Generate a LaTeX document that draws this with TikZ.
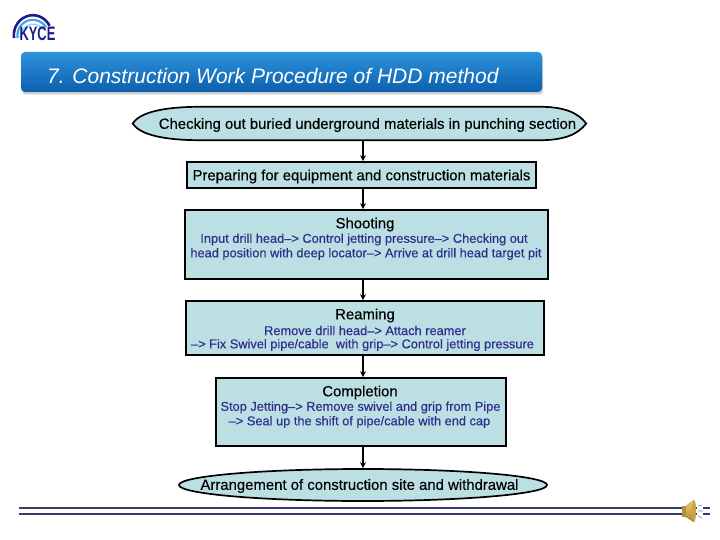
\documentclass[tikz,border=0pt]{standalone}
\usepackage{fontspec}
\setmainfont{Liberation Sans}
\newfontfamily\boxface[FakeBold=0.3, Ligatures=TeX]{Liberation Sans}
\usetikzlibrary{arrows.meta, shapes.geometric, shadows, positioning}
\definecolor{boxfill}{HTML}{BCDFE3}
\definecolor{subtext}{HTML}{2E2E8C}
\definecolor{rulenavy}{HTML}{3A3A70}
\definecolor{titletop}{HTML}{2C93DC}
\definecolor{titlebot}{HTML}{0D5FAE}
\definecolor{logoblue}{HTML}{1C1C8C}
\definecolor{logosky}{HTML}{3FA9E0}
\definecolor{speakergold}{HTML}{F0C050}
\tikzset{
  stepbox/.style={draw=black, line width=1.7pt, fill=boxfill, inner sep=0pt},
  endcap/.style={stepbox, ellipse},
  headtext/.style={font=\boxface\fontsize{14.9}{16}\selectfont, black, inner sep=0pt},
  subline/.style={font=\boxface\fontsize{12.8}{14}\selectfont, subtext, inner sep=0pt},
  flow/.style={line width=1.5pt, -{Stealth[length=6pt, width=6pt]}},
  bottomrule/.style={line width=2.4pt, rulenavy}
}
\begin{document}
\begin{tikzpicture}[x=1pt, y=-1pt]
  \useasboundingbox (0,0) rectangle (720,540);

  % logo
  \draw[line width=2.6pt, logoblue] (14,38) arc[start angle=172, end angle=332, x radius=19, y radius=20];
  \draw[line width=2.2pt, logosky] (17.5,38) arc[start angle=172, end angle=328, x radius=15.5, y radius=16];
  \draw[line width=1.4pt, logosky!55] (20.5,38) arc[start angle=174, end angle=324, x radius=12.5, y radius=12.5];
  \node[font=\bfseries\fontsize{19.5}{20}\selectfont, logoblue, inner sep=0pt, xscale=0.66] (logo) at (37.5,34) {KYCE};

  % title bar
  \node[draw=none, rounded corners=4pt, top color=titletop, bottom color=titlebot,
    minimum width=521pt, minimum height=40pt, inner sep=0pt,
    drop shadow={shadow xshift=1pt, shadow yshift=-2.5pt, opacity=0.4}] (titlebar) at (281.5,72) {};
  \node[font=\itshape\fontsize{21}{22}\selectfont, white, inner sep=0pt, anchor=west] (titletext) at (47,76.5)
    {7. Construction Work Procedure of HDD method};

  % steps
  \node[inner sep=0pt, minimum width=453pt, minimum height=33pt] (check) at (359.5,123.5) {};
  \draw[stepbox] (check.west) .. controls +(7,-11.5) and +(-35,0) .. ([xshift=-159.5pt]check.north)
    -- ([xshift=180.5pt]check.north) .. controls +(25,0) and +(-8,-10.5) .. (check.east)
    .. controls +(-8,10.5) and +(25,0) .. ([xshift=180.5pt]check.south)
    -- ([xshift=-159.5pt]check.south) .. controls +(-35,0) and +(7,11.5) .. cycle;
  \node[stepbox, minimum width=349pt, minimum height=26pt] (prep) at (361.5,175) {};
  \node[stepbox, minimum width=363pt, minimum height=69pt] (shoot) at (366.5,244.5) {};
  \node[stepbox, minimum width=358pt, minimum height=54pt] (ream) at (365,328) {};
  \node[stepbox, minimum width=290pt, minimum height=68pt] (finish) at (361,412) {};
  \node[endcap, minimum width=368pt, minimum height=32pt] (arrange) at (363,485) {};

  % texts
  \node[headtext] (checktext) at (367.5,125) {Checking out buried underground materials in punching section};
  \node[headtext] (preptext) at (361.5,176.5) {Preparing for equipment and construction materials};
  \node[headtext] (shoothead) at (365,224.5) {Shooting};
  \node[subline] (shootone) at (364,239.5) {Input drill head--> Control jetting pressure--> Checking out};
  \node[subline] (shoottwo) at (366,254) {head position with deep locator--> Arrive at drill head target pit};
  \node[headtext] (reamhead) at (365,315.5) {Reaming};
  \node[subline] (reamone) at (365,330.5) {Remove drill head--> Attach reamer};
  \node[subline] (reamtwo) at (362.5,345) {--> Fix Swivel pipe/cable~ with grip--> Control jetting pressure};
  \node[headtext] (finishhead) at (360,392.5) {Completion};
  \node[subline] (finishone) at (360.5,407.5) {Stop Jetting--> Remove swivel and grip from Pipe};
  \node[subline] (finishtwo) at (359.5,422) {--> Seal up the shift of pipe/cable with end cap};
  \node[headtext] (arrangetext) at (359.5,486) {Arrangement of construction site and withdrawal};

  % connectors
  \coordinate (axis) at (363,0);
  \draw[flow] (check.south -| axis) -- (prep.north -| axis);
  \draw[flow] (prep.south -| axis) -- (shoot.north -| axis);
  \draw[flow] (shoot.south -| axis) -- (ream.north -| axis);
  \draw[flow] (ream.south -| axis) -- (finish.north -| axis);
  \draw[flow] (finish.south -| axis) -- (arrange.north -| axis);

  % bottom rules
  \draw[bottomrule] (19,508) -- (710,508);
  \draw[bottomrule] (19,514) -- (710,514);

  % speaker
  \fill[white] (697,503) rectangle (703,520);
  \fill[speakergold!75!black] (682,506) rectangle (687,517);
  \fill[top color=speakergold!80, bottom color=speakergold!70!black] (686,506) -- (694,500) -- (696,511) -- (694,522) -- (686,517) -- cycle;
  \fill[speakergold!85!black] (694,511) ellipse[x radius=2.2pt, y radius=10.5pt];
  \draw[logoblue!60, line width=0.6pt] (698,506) -- (702,505) (698,511) -- (703,511) (698,516) -- (702,518);
\end{tikzpicture}
\end{document}
